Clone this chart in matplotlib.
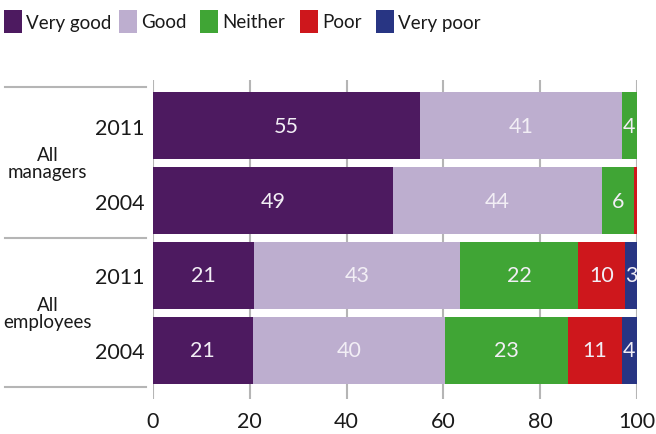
import numpy as np
import matplotlib.pyplot as plt
import matplotlib.transforms as mtransforms
from matplotlib.patches import Rectangle

plt.rcParams['font.family'] = ['Lato', 'DejaVu Sans']

# === 데이터 ===
categories = ["Very good", "Good", "Neither", "Poor", "Very poor"]
colors = ["#4d1a60", "#bdaecf", "#40a535", "#ce171c", "#283583"]
years = ["2011", "2004", "2011", "2004"]
groups = ["All\nmanagers", "All\nemployees"]

# bar widths (rows: managers 2011, managers 2004, employees 2011, employees 2004)
very_good = [55.1, 49.5, 20.8, 20.6]
good = [41.8, 43.3, 42.6, 39.7]
neither = [3.1, 6.6, 24.4, 25.4]
poor = [0.0, 0.6, 9.7, 11.2]
very_poor = [0.0, 0.0, 2.5, 3.1]

# printed labels
lab_very_good = ["55", "49", "21", "21"]
lab_good = ["41", "44", "43", "40"]
lab_neither = ["4", "6", "22", "23"]
lab_poor = ["", "", "10", "11"]
lab_very_poor = ["", "", "3", "4"]

series = [very_good, good, neither, poor, very_poor]
labels = [lab_very_good, lab_good, lab_neither, lab_poor, lab_very_poor]

W, H = 656, 435
fig = plt.figure(figsize=(W / 100, H / 100), dpi=100)
ax = fig.add_axes([153 / W, 1 - 400 / H, 484 / W, 319 / H])

y = np.arange(len(years))
left = np.zeros(len(years))
for name, vals, labs, col in zip(categories, series, labels, colors):
    vals = np.array(vals)
    ax.barh(y, vals, left=left, height=0.9, color=col, label=name, zorder=3)
    for yi, v, l, lt in zip(y, vals, labs, left):
        if l:
            ax.text(lt + v / 2, yi, l, ha='center', va='center', color='#f2eef5',
                    fontsize=15.5, zorder=4)
    left += vals

ax.set_xlim(0, 100)
ax.set_ylim(3.65, -0.61)
ax.set_xticks(np.arange(0, 101, 20))
ax.set_yticks(y)
ax.set_yticklabels(years)
ax.tick_params(axis='both', length=0, labelsize=15.5, colors='#1a1a1a')
ax.tick_params(axis='x', pad=9)
ax.tick_params(axis='y', pad=6)
for s in ax.spines.values():
    s.set_visible(False)
ax.grid(axis='x', color='#b5b5b5', lw=1.5, zorder=0)
ax.grid(axis='y', visible=False)

# 왼쪽 구분선
trans = mtransforms.blended_transform_factory(ax.transAxes, ax.transData)
for yl in [-0.52, 1.5, 3.49]:
    ax.plot([-0.306, -0.0145], [yl, yl], color='#b5b5b5', lw=1.5,
            transform=trans, clip_on=False)

for g, yc in zip(groups, [0.5, 2.5]):
    ax.text(-0.218, yc, g, transform=trans, ha='center', va='center',
            fontsize=13.5, linespacing=1.0, color='#1a1a1a')

# 범례 (상단, 수동 배치)
box_x = [4, 119, 200, 300, 376]
for bx, name, col in zip(box_x, categories, colors):
    fig.add_artist(Rectangle((bx / W, 1 - 34 / H), 18 / W, 23 / H,
                             transform=fig.transFigure, color=col, lw=0))
    fig.text((bx + 22) / W, 1 - 23 / H, name, ha='left', va='center',
             fontsize=13.5, color='#1a1a1a')

plt.savefig("out.png", dpi=100)
